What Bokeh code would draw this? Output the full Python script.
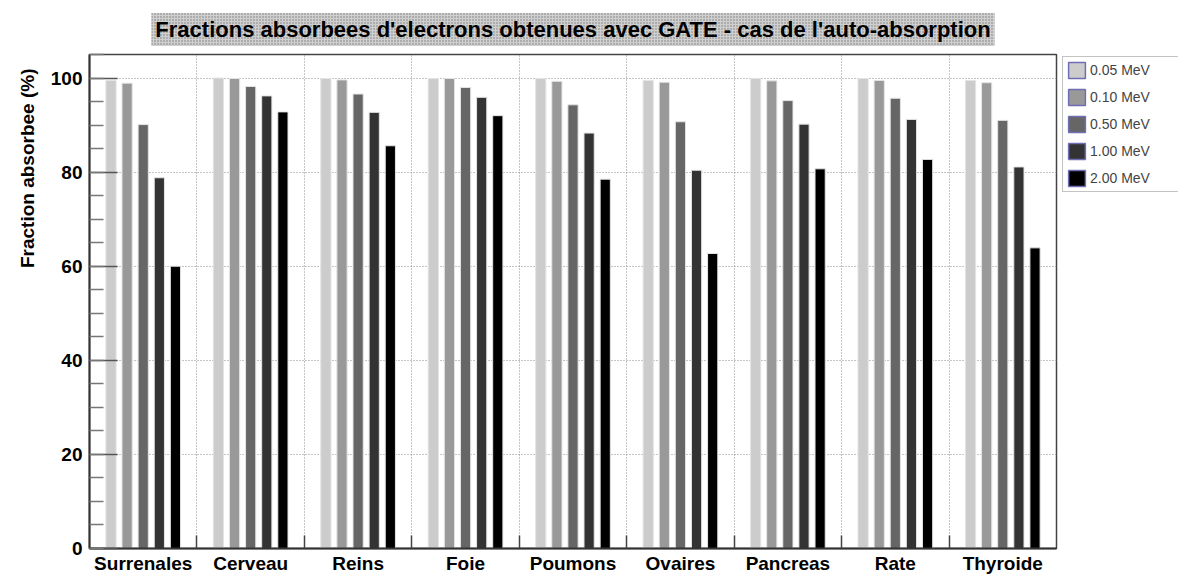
import math
from bokeh.plotting import figure
from bokeh.layouts import row
from bokeh.models import (ColumnDataSource, FixedTicker, SingleIntervalTicker, Legend,
                          LegendItem, Title)
from bokeh.embed import file_html
from bokeh.resources import INLINE

categories = ["Surrenales", "Cerveau", "Reins", "Foie", "Poumons",
              "Ovaires", "Pancreas", "Rate", "Thyroide"]
energies = ["0.05 MeV", "0.10 MeV", "0.50 MeV", "1.00 MeV", "2.00 MeV"]
e005 = [99.5, 100.0, 99.9, 99.9, 99.9, 99.5, 99.9, 99.9, 99.5]
e010 = [98.9, 99.9, 99.6, 99.9, 99.3, 99.1, 99.4, 99.5, 99.0]
e050 = [90.1, 98.2, 96.6, 98.0, 94.3, 90.7, 95.2, 95.7, 91.0]
e100 = [78.8, 96.2, 92.7, 95.9, 88.3, 80.4, 90.2, 91.2, 81.1]
e200 = [60.0, 92.8, 85.6, 92.0, 78.5, 62.7, 80.7, 82.7, 63.9]
series = [e005, e010, e050, e100, e200]
colors = ["#cccccc", "#999999", "#666666", "#333333", "#000000"]

FONT = "Liberation Sans"
H = 576
W1, W2 = 1060, 118
ML, MR, MT, MB = 89, 4, 54, 24

p = figure(width=W1, height=H, x_range=(0, 9), y_range=(0, 105),
           output_backend="svg", toolbar_location=None,
           min_border_left=ML, min_border_top=MT, min_border_bottom=MB,
           min_border_right=MR)

p.title.text = "Fractions absorbees d'electrons obtenues avec GATE - cas de l'auto-absorption"
p.title.align = "center"
p.title.text_font = FONT
p.title.text_font_size = "22px"
p.title.text_font_style = "bold"
p.title.text_color = "#000000"
p.title.standoff = 17
p.title.background_fill_color = "#cfcfcf"
for attr, val in [("padding", 4), ("background_hatch_pattern", "dot"),
                  ("background_hatch_color", "#7a7a7a"), ("background_hatch_scale", 3.0)]:
    try:
        setattr(p.title, attr, val)
    except Exception:
        pass

# y-axis title on the left, aligned to the top end like the original
ytitle = Title(text="Fraction absorbee (%)", align="right", text_font=FONT,
               text_font_size="19px", text_font_style="bold", text_color="#000000",
               offset=14, standoff=20)
p.add_layout(ytitle, "left")

for k, (vals, col) in enumerate(zip(series, colors)):
    xs = [i + 0.2 + 0.15 * k for i in range(len(categories))]
    src = ColumnDataSource(dict(x=xs, top=vals))
    p.vbar(x="x", top="top", width=0.095, source=src, fill_color=col,
           line_color="#e4e4e4", line_width=1)

# axes
p.xaxis.ticker = FixedTicker(ticks=[i + 0.5 for i in range(len(categories))],
                             minor_ticks=list(range(1, len(categories))))
p.xaxis.major_label_overrides = {i + 0.5: c for i, c in enumerate(categories)}
p.xaxis.major_tick_in = 0
p.xaxis.major_tick_out = 0
p.xaxis.minor_tick_in = 13
p.xaxis.minor_tick_out = 0
p.xaxis.minor_tick_line_color = "#444444"
p.xaxis.minor_tick_line_width = 1.5
p.xaxis.major_label_standoff = 4

p.yaxis.ticker = SingleIntervalTicker(interval=20, num_minor_ticks=4)
p.yaxis.major_tick_in = 28
p.yaxis.major_tick_out = 0
p.yaxis.minor_tick_in = 14
p.yaxis.minor_tick_out = 0
p.yaxis.major_tick_line_color = "#555555"
p.yaxis.major_tick_line_width = 1.5
p.yaxis.minor_tick_line_color = "#777777"
p.yaxis.minor_tick_line_width = 1.5
p.yaxis.major_label_standoff = 7

for ax in (p.xaxis[0], p.yaxis[0]):
    ax.major_label_text_font = FONT
    ax.major_label_text_font_size = "19px"
    ax.major_label_text_font_style = "bold"
    ax.major_label_text_color = "#000000"
    ax.axis_line_color = "#333333"
    ax.axis_line_width = 2

p.xgrid.ticker = FixedTicker(ticks=list(range(1, len(categories))))
p.ygrid.ticker = FixedTicker(ticks=[20, 40, 60, 80, 100])
for g in (p.xgrid[0], p.ygrid[0]):
    g.grid_line_color = "#8a8a8a"
    g.grid_line_dash = "1 2"
    g.grid_line_width = 1

p.outline_line_color = "#444444"
p.outline_line_width = 1.5
p.background_fill_color = "white"
p.border_fill_color = "white"

# legend panel
q = figure(width=W2, height=H, x_range=(0, 1), y_range=(0, 1),
           output_backend="svg", toolbar_location=None,
           x_axis_type=None, y_axis_type=None,
           min_border_left=0, min_border_right=0, min_border_top=MT,
           min_border_bottom=MB)
q.xgrid.visible = False
q.ygrid.visible = False
q.outline_line_color = None
q.border_fill_color = "white"
items = []
for col, name in zip(colors, energies):
    dummy = q.vbar(x=[float("nan")], top=[float("nan")], width=0.1, fill_color=col,
                   line_color="#6e6eb4", line_width=1.5)
    items.append(LegendItem(label=name, renderers=[dummy]))
legend = Legend(items=items, location="top_left", margin=2, padding=3,
                spacing=7, glyph_width=21, glyph_height=20, label_width=85,
                label_standoff=3, label_text_font=FONT, label_text_font_size="14px",
                border_line_color="#888888", border_line_width=1,
                background_fill_color="white", background_fill_alpha=1.0)
q.add_layout(legend)

layout = row(p, q, spacing=0)
open("out.html", "w").write(file_html(layout, INLINE))
